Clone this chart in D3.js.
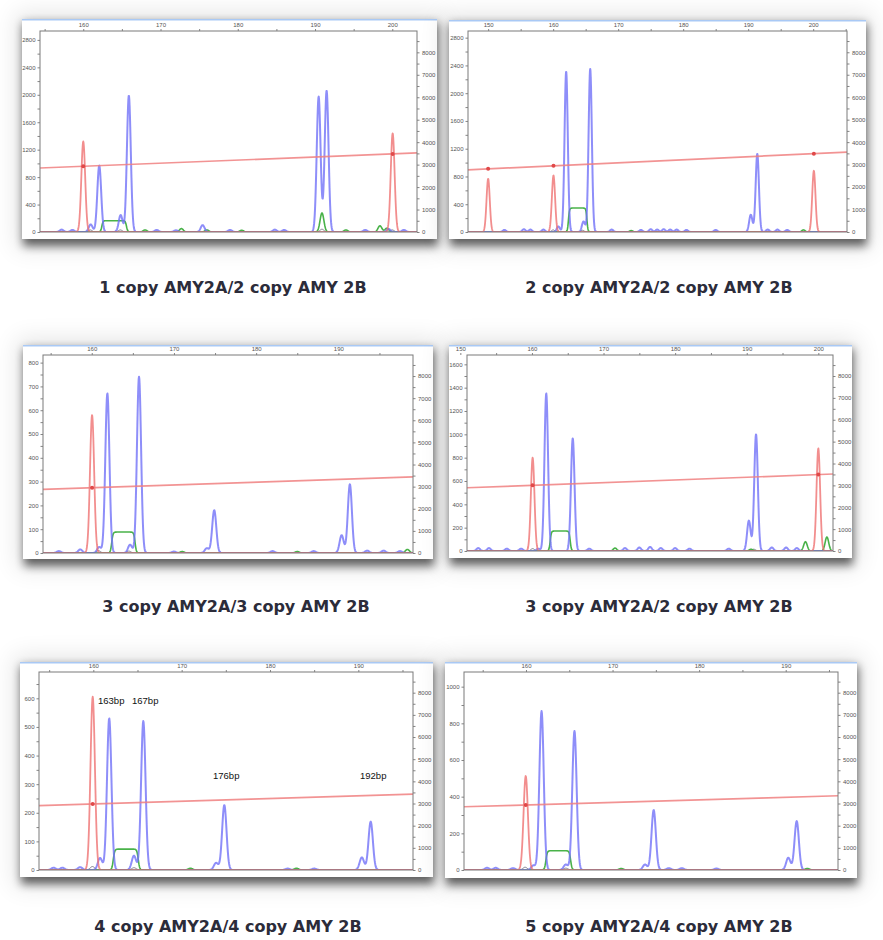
<!DOCTYPE html>
<html>
<head>
<meta charset="utf-8">
<script src="https://cdn.jsdelivr.net/npm/d3@7"></script>
<style>
  html, body { margin: 0; padding: 0; background: #ffffff; }
  svg { display: block; }
</style>
</head>
<body>
<svg id="chart" width="883" height="940"></svg>
<script>
// ---- Sample captions -------------------------------------------------------
const titles = [
  "1 copy AMY2A/2 copy AMY 2B",
  "2 copy AMY2A/2 copy AMY 2B",
  "3 copy AMY2A/3 copy AMY 2B",
  "3 copy AMY2A/2 copy AMY 2B",
  "4 copy AMY2A/4 copy AMY 2B",
  "5 copy AMY2A/4 copy AMY 2B"
];

// ---- Axes -------------------------------------------------------------------
// fragment size window (bp) shown on each electropherogram
const bpRanges = [
  [154.4, 203.2], [146.9, 205.2], [154.07, 199.08],
  [150.93, 202.05], [153.85, 196.19], [152.84, 196.04]
];
const bpMajor = 10, bpMinor = 5;
// left axis: signal (RFU), top of axis and labelled step
const rfuMax  = [2930, 2896, 832, 1680, 692, 1080];
const rfuStep = [400, 400, 100, 200, 100, 200];
// right axis: size-standard scale
const stdMax  = [8950, 8947, 8951, 8960, 8934, 8934];
const stdStep = 1000;

// ---- Traces: peaks are [size bp, height RFU] -------------------------------
const bluePeaks = [
  [[160.96,110],[162.07,970],[164.84,248],[165.9,1990],[175.45,100],[190.47,1975],[191.5,2061],
   [157.2,35],[158.6,30],[169.5,30],[172.0,25],[179.0,30],[184.8,35],[186.0,30],[196.5,30],[199.5,45],[201.5,30]],
  [[160.8,80],[162.0,2311],[164.67,152],[165.7,2350],[190.4,250],[191.4,1127],
   [152.5,30],[155.5,40],[156.5,35],[158.5,35],[169.0,35],[173.5,30],[175.0,40],[176.0,35],[177.0,40],[178.0,35],[179.0,35],[180.5,30],[185.0,30],[193.0,35],[194.5,35],[196.0,30]],
  [[158.6,15],[160.9,25],[161.9,671],[164.66,35],[165.75,741],[174.0,20],[174.9,180],[190.4,75],[191.4,289],
   [156.0,8],[170.0,6],[182.0,8],[187.0,8],[193.5,10],[195.5,10],[197.5,8]],
  [[160.9,20],[162.0,1351],[165.7,966],[190.3,260],[191.3,1000],
   [152.5,25],[154.0,25],[156.5,20],[158.5,20],[168.0,20],[173.0,25],[175.0,30],[176.5,35],[178.0,25],[180.0,25],[182.0,20],[187.5,20],[193.5,30],[195.5,30],[197.0,25]],
  [[158.5,10],[160.76,42],[161.8,530],[164.6,50],[165.66,521],[173.9,25],[174.83,227],[190.4,44],[191.4,169],
   [155.5,8],[156.5,8],[182.0,5],[185.0,5]],
  [[158.5,10],[160.85,25],[161.8,867],[164.6,30],[165.6,758],[173.75,30],[174.75,327],[190.3,67],[191.27,267],
   [155.5,12],[156.5,12],[176.5,10],[178.0,10],[182.0,8]]
];
const redPeaks = [
  [[160.0,1320],[200.05,1440]],
  [[150.0,767],[160.05,815],[200.1,882]],
  [[160.04,580]],
  [[160.1,800],[200.0,880]],
  [[159.93,606]],
  [[159.97,513]]
];
const greenPeaks = [
  [[190.9,277],[172.7,50],[198.4,90],[199.3,55],[168.0,30],[176.0,30],[180.5,25],[194.0,30]],
  [[198.5,30],[172.0,20]],
  [[198.4,15],[171.0,6],[185.0,6]],
  [[198.2,80],[201.2,120],[171.6,25],[190.6,15]],
  [[171.0,6],[183.0,6]],
  [[171.0,8],[192.5,8]]
];
// broad green band: [start bp, end bp, height]
const greenBands = [
  [[162.4,165.6,165]],
  [[162.35,165.2,345]],
  [[162.43,165.27,88]],
  [[162.55,165.35,171]],
  [[162.26,165.09,73]],
  [[162.3,165.16,105]]
];
const blackPeaks = [
  [[160.9,30],[164.8,30],[190.9,40],[200.0,30]],
  [[160.0,30],[164.5,25]],
  [[160.8,10],[164.5,8]],
  [[160.1,20],[191.0,15]],
  [[159.9,12],[164.6,8]],
  [[159.9,15],[164.6,10]]
];
// sizing calibration line: signal value at the left and right plot edges
const calibration = [[933,1152],[896,1151],[267,320],[542,660],[225,265],[345,405]];

// fragment annotations on the 4/4 sample
const annotPanel = 4;
const annotText = ["163bp", "167bp", "176bp", "192bp"];
const annotAt   = [[160.53,580],[164.38,580],[173.55,318],[190.19,318]];

// ---- Page layout (pixels) --------------------------------------------------
const layout = [
  { card: [22, 19, 437, 239],  plot: [40, 31, 417, 232],  cap: [233, 293] },
  { card: [449, 20, 866, 239], plot: [468, 31, 847, 232], cap: [659, 293] },
  { card: [23, 345, 433, 559], plot: [43, 355, 413, 553], cap: [236, 612] },
  { card: [449, 345, 852, 558], plot: [467, 355, 833, 551], cap: [659, 612] },
  { card: [20, 662, 433, 877], plot: [39, 672, 413, 870], cap: [228, 932] },
  { card: [445, 662, 857, 878], plot: [464, 672, 838, 870], cap: [659, 932] }
];

const colors = { blue: "#7272f7", red: "#ef7272", green: "#3fae3f", black: "#333344", line: "#f08080" };
const PEAK_SD = 0.25;   // peak width (bp)
const BAND_EDGE = 0.08; // band edge softness (bp)

const svg = d3.select("#chart");
const defs = svg.append("defs");

const shadowBlur = defs.append("filter").attr("id", "shadowBlur")
  .attr("x", "-20%").attr("y", "-20%").attr("width", "140%").attr("height", "140%");
shadowBlur.append("feGaussianBlur").attr("stdDeviation", 5);
const haloBlur = defs.append("filter").attr("id", "haloBlur")
  .attr("x", "-20%").attr("y", "-20%").attr("width", "140%").attr("height", "140%");
haloBlur.append("feGaussianBlur").attr("stdDeviation", 12);
const traceSoft = defs.append("filter").attr("id", "traceSoft")
  .attr("x", "-5%").attr("y", "-5%").attr("width", "110%").attr("height", "110%");
traceSoft.append("feGaussianBlur").attr("stdDeviation", 0.75);

// signal of one dye channel at a given size
function signalAt(bp, peaks, bands) {
  let v = 0;
  for (const [c, h] of peaks) {
    const z = (bp - c) / PEAK_SD;
    if (Math.abs(z) < 6) v += h * Math.exp(-0.5 * z * z);
  }
  for (const [a, b, h] of (bands || [])) {
    v += h * (1 / (1 + Math.exp(-(bp - a) / BAND_EDGE)) - 1 / (1 + Math.exp(-(bp - b) / BAND_EDGE)));
  }
  return v;
}

layout.forEach((L, i) => {
  const [cx0, cy0, cx1, cy1] = L.card;
  const [px0, py0, px1, py1] = L.plot;
  const g = svg.append("g");

  // card with soft shadow
  g.append("rect").attr("x", cx0 - 6).attr("y", cy0 - 6).attr("width", cx1 - cx0 + 12).attr("height", cy1 - cy0 + 16)
    .attr("fill", "#000").attr("opacity", 0.10).attr("filter", "url(#haloBlur)");
  g.append("rect").attr("x", cx0 + 1).attr("y", cy0 + 4).attr("width", cx1 - cx0).attr("height", cy1 - cy0 + 3)
    .attr("fill", "#000").attr("opacity", 0.6).attr("filter", "url(#shadowBlur)");
  g.append("rect").attr("x", cx0).attr("y", cy0).attr("width", cx1 - cx0).attr("height", cy1 - cy0)
    .attr("fill", "#ffffff");
  g.append("line").attr("x1", cx0).attr("x2", cx1).attr("y1", cy0 + 0.75).attr("y2", cy0 + 0.75)
    .attr("stroke", "#a9c9f5").attr("stroke-width", 1.5);

  const x = d3.scaleLinear().domain(bpRanges[i]).range([px0, px1]);
  const yL = d3.scaleLinear().domain([0, rfuMax[i]]).range([py1, py0]);
  const yR = d3.scaleLinear().domain([0, stdMax[i]]).range([py1, py0]);

  // axes
  const tickStyle = sel => {
    sel.select(".domain").remove();
    sel.selectAll(".tick line").attr("stroke", "#666").attr("stroke-width", 0.8);
    sel.selectAll(".tick text").attr("fill", "#555").attr("font-size", 6)
      .attr("font-family", "Liberation Sans, Arial, sans-serif");
  };
  const bpTicks = d3.range(145, 210, bpMinor).filter(v => v >= bpRanges[i][0] - 1 && v <= bpRanges[i][1]);
  g.append("g").attr("transform", `translate(0,${py0})`)
    .call(d3.axisTop(x).tickValues(bpTicks).tickSize(2).tickPadding(2)
      .tickFormat(d => d % bpMajor === 0 ? d : ""))
    .call(tickStyle);
  g.append("g").attr("transform", `translate(${px0},0)`)
    .call(d3.axisLeft(yL).tickValues(d3.range(0, rfuMax[i], rfuStep[i] / 2)).tickSize(2.5).tickPadding(2)
      .tickFormat(d => d % rfuStep[i] === 0 ? d : ""))
    .call(tickStyle);
  g.append("g").attr("transform", `translate(${px1},0)`)
    .call(d3.axisRight(yR).tickValues(d3.range(0, stdMax[i], stdStep / 2)).tickSize(2.5).tickPadding(2.5)
      .tickFormat(d => d % stdStep === 0 ? d : ""))
    .call(tickStyle);

  // traces, clipped to the plot box
  const clipId = "clip" + i;
  defs.append("clipPath").attr("id", clipId).append("rect")
    .attr("x", px0).attr("y", py0 - 1).attr("width", px1 - px0).attr("height", py1 - py0 + 1);
  const traces = g.append("g").attr("clip-path", `url(#${clipId})`).append("g").attr("filter", "url(#traceSoft)");

  const sizes = d3.range(bpRanges[i][0], bpRanges[i][1] + 0.02, 0.04);
  const line = d3.line().x(d => x(d[0])).y(d => yL(d[1]));
  const channels = [
    { peaks: blackPeaks[i], bands: null, color: colors.black, w: 1.0, op: 0.6 },
    { peaks: greenPeaks[i], bands: greenBands[i], color: colors.green, w: 1.6, op: 0.95 },
    { peaks: bluePeaks[i], bands: null, color: colors.blue, w: 2.0, op: 0.8 },
    { peaks: redPeaks[i], bands: null, color: colors.red, w: 1.8, op: 0.8 }
  ];
  channels.forEach(ch => {
    traces.append("path")
      .attr("d", line(sizes.map(s => [s, signalAt(s, ch.peaks, ch.bands)])))
      .attr("fill", "none").attr("stroke", ch.color).attr("stroke-width", ch.w)
      .attr("stroke-opacity", ch.op).attr("stroke-linejoin", "round");
  });

  // sizing calibration line with ladder points
  const calib = d3.scaleLinear().domain(bpRanges[i]).range(calibration[i]);
  traces.append("path")
    .attr("d", line([[bpRanges[i][0], calibration[i][0]], [bpRanges[i][1], calibration[i][1]]]))
    .attr("stroke", colors.line).attr("stroke-width", 1.7).attr("stroke-opacity", 0.85).attr("fill", "none");
  traces.selectAll("circle.ladder").data(redPeaks[i]).join("circle").attr("class", "ladder")
    .attr("cx", d => x(d[0])).attr("cy", d => yL(calib(d[0]))).attr("r", 2)
    .attr("fill", "#e04848");

  // plot frame
  g.append("rect").attr("x", px0).attr("y", py0).attr("width", px1 - px0).attr("height", py1 - py0)
    .attr("fill", "none").attr("stroke", "#7a7a7a").attr("stroke-width", 1);

  // fragment size annotations
  if (i === annotPanel) {
    g.selectAll("text.annot").data(annotText).join("text").attr("class", "annot")
      .attr("x", (d, k) => x(annotAt[k][0])).attr("y", (d, k) => yL(annotAt[k][1]))
      .attr("font-family", "Liberation Sans, Arial, sans-serif").attr("font-size", 9.5)
      .attr("fill", "#111").text(d => d);
  }

  // caption
  svg.append("text").attr("x", L.cap[0]).attr("y", L.cap[1]).attr("text-anchor", "middle")
    .attr("font-family", "'DejaVu Sans', sans-serif").attr("font-weight", 700).attr("font-size", 16)
    .attr("fill", "#2c2c3a").text(titles[i]);
});
</script>
</body>
</html>
